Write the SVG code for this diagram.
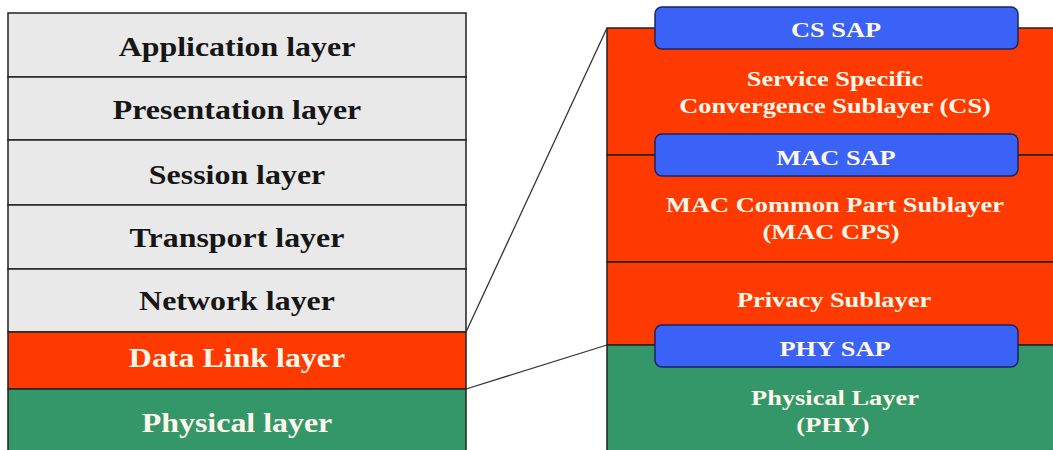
<svg xmlns="http://www.w3.org/2000/svg" width="1053" height="450" viewBox="0 0 1053 450">
  <style>
    .osi { stroke: #222; stroke-width: 1.5; }
    .grey { fill: #e9e9e9; }
    .red { fill: #ff3a00; }
    .green { fill: #34976a; }
    .sap { fill: #3a62f6; stroke: #1a2560; stroke-width: 1.5; }
    .lt { font-family: "Liberation Serif", "Times New Roman", serif; font-weight: bold; font-size: 28px; text-anchor: middle; }
    .rt { font-family: "Liberation Serif", "Times New Roman", serif; font-weight: bold; font-size: 20px; text-anchor: middle; fill: #fff8ea; }
    .dark { fill: #161616; }
    .light { fill: #fff8ea; }
    .conn { stroke: #333; stroke-width: 1.3; fill: none; }
  </style>

  <rect width="1053" height="450" fill="#ffffff"/>

  <!-- OSI reference stack (labels widened to the wide bold face) -->
  <g id="application-layer">
    <rect class="osi grey" x="8" y="13" width="458" height="64"/>
    <text class="lt dark" transform="translate(237,56) scale(1.14,1)">Application layer</text>
  </g>
  <g id="presentation-layer">
    <rect class="osi grey" x="8" y="77" width="458" height="63"/>
    <text class="lt dark" transform="translate(237,119) scale(1.14,1)">Presentation layer</text>
  </g>
  <g id="session-layer">
    <rect class="osi grey" x="8" y="140" width="458" height="65"/>
    <text class="lt dark" transform="translate(237,184) scale(1.14,1)">Session layer</text>
  </g>
  <g id="transport-layer">
    <rect class="osi grey" x="8" y="205" width="458" height="64"/>
    <text class="lt dark" transform="translate(237,247) scale(1.14,1)">Transport layer</text>
  </g>
  <g id="network-layer">
    <rect class="osi grey" x="8" y="269" width="458" height="63"/>
    <text class="lt dark" transform="translate(237,310) scale(1.14,1)">Network layer</text>
  </g>
  <g id="data-link-layer">
    <rect class="osi red" x="8" y="332" width="458" height="57"/>
    <text class="lt light" transform="translate(237,367) scale(1.14,1)">Data Link layer</text>
  </g>
  <g id="physical-layer">
    <rect class="osi green" x="8" y="389" width="458" height="70"/>
    <text class="lt light" transform="translate(237,432) scale(1.14,1)">Physical layer</text>
  </g>

  <!-- 802.16 sublayer stack -->
  <g id="cs-sublayer">
    <rect class="osi red" x="607" y="28" width="460" height="127"/>
    <text class="rt" transform="translate(835,86) scale(1.32,1)">Service Specific</text>
    <text class="rt" transform="translate(835,113) scale(1.32,1)">Convergence Sublayer (CS)</text>
  </g>
  <g id="mac-cps">
    <rect class="osi red" x="607" y="155" width="460" height="107"/>
    <text class="rt" transform="translate(835,212) scale(1.32,1)">MAC Common Part Sublayer</text>
    <text class="rt" transform="translate(831,239) scale(1.32,1)">(MAC CPS)</text>
  </g>
  <g id="privacy-sublayer">
    <rect class="osi red" x="607" y="262" width="460" height="83"/>
    <text class="rt" transform="translate(834,307) scale(1.32,1)">Privacy Sublayer</text>
  </g>
  <g id="phy">
    <rect class="osi green" x="607" y="345" width="460" height="115"/>
    <text class="rt" transform="translate(835,405) scale(1.32,1)">Physical Layer</text>
    <text class="rt" transform="translate(833,432) scale(1.32,1)">(PHY)</text>
  </g>

  <!-- service access points -->
  <g id="cs-sap">
    <rect class="sap" x="655" y="7" width="363" height="42" rx="7"/>
    <text class="rt" transform="translate(836,37) scale(1.32,1)">CS SAP</text>
  </g>
  <g id="mac-sap">
    <rect class="sap" x="655" y="134" width="363" height="42" rx="7"/>
    <text class="rt" transform="translate(836,165) scale(1.32,1)">MAC SAP</text>
  </g>
  <g id="phy-sap">
    <rect class="sap" x="655" y="325" width="363" height="42" rx="7"/>
    <text class="rt" transform="translate(835,356) scale(1.32,1)">PHY SAP</text>
  </g>

  <!-- zoom lines from the data link layer to its sublayers -->
  <g id="connectors">
    <line class="conn" x1="466" y1="332" x2="607" y2="28"/>
    <line class="conn" x1="466" y1="389" x2="607" y2="345"/>
  </g>
</svg>
